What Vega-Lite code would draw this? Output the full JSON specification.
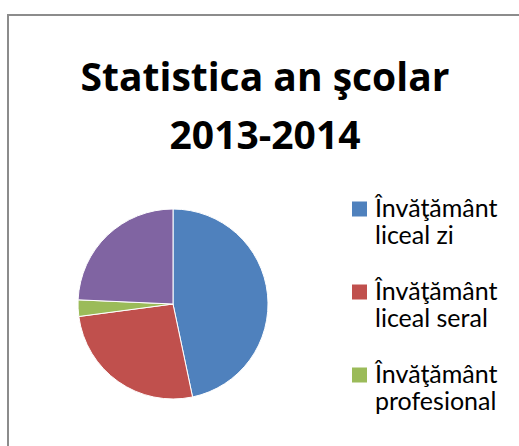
{
  "$schema": "https://vega.github.io/schema/vega-lite/v6.json",
  "width": 520,
  "height": 440,
  "autosize": {"type": "none"},
  "padding": {"left": 8, "top": 15, "right": -9, "bottom": -9},
  "background": "white",
  "view": {"stroke": "#8c8c8c", "strokeWidth": 2},
  "title": {
    "text": ["Statistica an şcolar", "2013-2014"],
    "font": "Open Sans",
    "fontSize": 39,
    "fontWeight": "bold",
    "color": "#000000",
    "lineHeight": 58,
    "anchor": "middle",
    "frame": "group",
    "baseline": "top",
    "offset": 0,
    "dx": -3,
    "dy": 142
  },
  "data": {
    "values": [
      {"nr": 1, "categorie": "Învăţământ liceal zi", "procent": 46.7},
      {"nr": 2, "categorie": "Învăţământ liceal seral", "procent": 26.2},
      {"nr": 3, "categorie": "Învăţământ profesional", "procent": 2.8},
      {"nr": 4, "categorie": "Învăţământ postliceal", "procent": 24.3}
    ]
  },
  "mark": {"type": "arc", "outerRadius": 95, "x": 165, "y": 289, "stroke": "#ffffff", "strokeWidth": 1},
  "encoding": {
    "theta": {"field": "procent", "type": "quantitative", "stack": true},
    "order": {"field": "nr", "type": "quantitative"},
    "color": {
      "field": "categorie",
      "type": "nominal",
      "scale": {
        "domain": ["Învăţământ liceal zi", "Învăţământ liceal seral", "Învăţământ profesional", "Învăţământ postliceal"],
        "range": ["#4F81BD", "#C0504D", "#9BBB59", "#8064A2"]
      },
      "legend": {
        "orient": "none",
        "legendX": 339,
        "legendY": 189,
        "title": null,
        "values": ["Învăţământ liceal zi", "Învăţământ liceal seral", "Învăţământ profesional"],
        "labelExpr": "[slice(datum.label, 0, 10), slice(datum.label, 11)]",
        "labelFont": "Lato",
        "labelFontSize": 25,
        "labelLineHeight": 31,
        "labelColor": "#000000",
        "labelBaseline": "alphabetic",
        "labelOffset": 3,
        "labelLimit": 300,
        "symbolType": "M-1,-2H1V0H-1Z",
        "symbolSize": 225,
        "symbolStrokeWidth": 0,
        "symbolOpacity": 1,
        "rowPadding": 30
      }
    }
  }
}
